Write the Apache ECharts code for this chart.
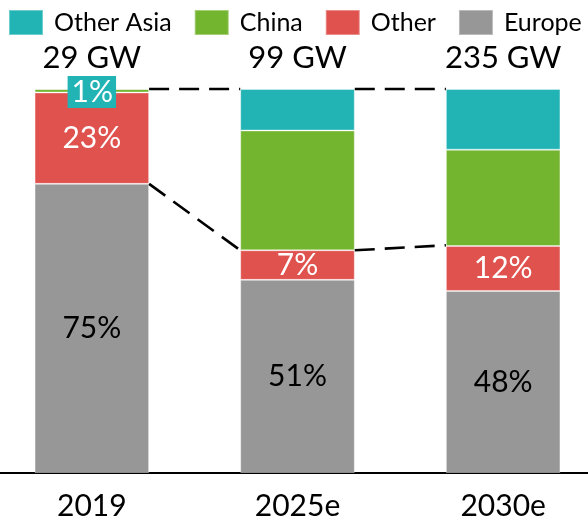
<!DOCTYPE html>
<html>
<head>
<meta charset="utf-8">
<style>
  html, body { margin: 0; padding: 0; background: #fff; }
  #chart { width: 588px; height: 519px; }
</style>
<script src="https://cdn.jsdelivr.net/npm/echarts@6/dist/echarts.min.js"></script>
</head>
<body>
<div id="chart"></div>
<script>
var years = ['2019', '2025e', '2030e'];
var capacity = ['29 GW', '99 GW', '235 GW'];

// shares in %
var europe = [75.3, 50.3, 47.4];
var other = [23.8, 7.7, 11.7];
var china = [0.9, 31.2, 25.1];
var otherAsia = [0, 10.8, 15.8];

var europeLabels = ['75%', '51%', '48%'];
var otherLabels = ['23%', '7%', '12%'];
var otherAsiaLabels = ['1%', '', ''];

// dashed connectors between bars: [from category, level at left bar, level at right bar]
var topLink = [[0, 100, 100], [1, 100, 100]];
var lowerLink = [[0, 75.3, 58], [1, 58, 59.3]];

var BAR_RATIO = 0.557;
var FONT = 'Lato, "Noto Sans", sans-serif';

var chart = echarts.init(document.getElementById('chart'));

function textFrom(list) {
  return function (p) { return list[p.dataIndex]; };
}

function linkSeries(data) {
  return {
    type: 'custom',
    data: data,
    encode: { x: 0, y: 1 },
    z: 5,
    silent: true,
    renderItem: function (params, api) {
      var i = api.value(0);
      var half = api.size([1, 0])[0] * BAR_RATIO / 2;
      var a = api.coord([i, api.value(1)]);
      var b = api.coord([i + 1, api.value(2)]);
      return {
        type: 'line',
        shape: { x1: a[0] + half, y1: a[1], x2: b[0] - half, y2: b[1] },
        style: { stroke: '#000', lineWidth: 2.6, lineDash: [20, 10] }
      };
    }
  };
}

var option = {
  animation: false,
  textStyle: { fontFamily: FONT },
  legend: {
    data: ['Other Asia', 'China', 'Other', 'Europe'],
    left: 8,
    top: 9,
    padding: 0,
    itemWidth: 34,
    itemHeight: 25,
    itemGap: 22,
    icon: 'rect',
    textStyle: { fontSize: 25, color: '#000', padding: [0, 0, 0, 6] }
  },
  grid: { left: -11, right: -18, top: 89, bottom: 46, outerBoundsMode: 'none', containLabel: false },
  xAxis: [
    {
      type: 'category',
      data: years,
      axisLine: { lineStyle: { color: '#000', width: 2 } },
      axisTick: { show: false },
      axisLabel: { color: '#000', fontSize: 30, margin: 18 }
    },
    {
      type: 'category',
      position: 'top',
      data: capacity,
      axisLine: { show: false },
      axisTick: { show: false },
      axisLabel: { color: '#000', fontSize: 31, margin: 16 }
    }
  ],
  yAxis: { type: 'value', min: 0, max: 100, show: false },
  series: [
    {
      name: 'Europe', type: 'bar', stack: 'share', data: europe,
      barWidth: (BAR_RATIO * 100) + '%',
      itemStyle: { color: '#979797', borderColor: 'rgba(255,255,255,0.35)', borderWidth: 1 },
      label: { show: true, position: 'inside', color: '#000', fontSize: 30, formatter: textFrom(europeLabels) }
    },
    {
      name: 'Other', type: 'bar', stack: 'share', data: other,
      itemStyle: { color: '#DF524E', borderColor: 'rgba(255,255,255,0.35)', borderWidth: 1 },
      label: { show: true, position: 'inside', color: '#fff', fontSize: 30, formatter: textFrom(otherLabels) }
    },
    {
      name: 'China', type: 'bar', stack: 'share', data: china,
      itemStyle: { color: '#74B52F', borderColor: 'rgba(255,255,255,0.35)', borderWidth: 1 }
    },
    {
      name: 'Other Asia', type: 'bar', stack: 'share', data: otherAsia,
      itemStyle: { color: '#22B3B4', borderColor: 'rgba(255,255,255,0.35)', borderWidth: 1 },
      label: {
        show: true, position: 'inside', color: '#fff', fontSize: 30,
        backgroundColor: '#22B3B4', padding: [2, 3, 0, 4], offset: [0, 3],
        formatter: textFrom(otherAsiaLabels)
      }
    },
    linkSeries(topLink),
    linkSeries(lowerLink)
  ]
};

chart.setOption(option);
</script>
</body>
</html>
